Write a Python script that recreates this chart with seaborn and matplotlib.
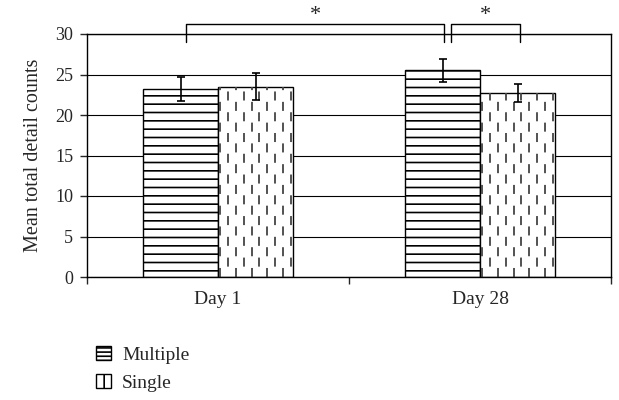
import matplotlib
matplotlib.use("Agg")
import matplotlib.pyplot as plt
from matplotlib.patches import Patch
import pandas as pd
import seaborn as sns

days = ["Day 1", "Day 28"]
groups = ["Multiple", "Single"]
multiple_mean = [23.2, 25.5]
single_mean = [23.5, 22.7]
multiple_err = [1.5, 1.4]
single_err = [1.65, 1.1]
yticks = [0, 5, 10, 15, 20, 25, 30]

df = pd.DataFrame({
    "day": days * 2,
    "group": [g for g in groups for _ in days],
    "count": multiple_mean + single_mean,
})

sns.set_style("white")
plt.rcParams["font.family"] = ["Liberation Serif", "DejaVu Serif"]
plt.rcParams["hatch.linewidth"] = 1.2

fig = plt.figure(figsize=(6.19, 4.0), dpi=100)
ax = fig.add_axes([0.1406, 0.3075, 0.8466, 0.6075])

sns.barplot(df, x="day", y="count", hue="group", order=days, hue_order=groups,
            palette=["white", "white"], saturation=1, width=0.573, gap=0,
            errorbar=None, edgecolor="black", linewidth=1.0, legend=False, ax=ax)
bars = list(ax.containers[:2])

# horizontal stripes for Multiple
for bar in bars[0]:
    bar.set_hatch("--")

# staggered vertical dashes for Single
for bar in bars[1]:
    x0, w, h = bar.get_x(), bar.get_width(), bar.get_height()
    for i in range(10):
        x = x0 + w * (0.03 + i * 0.104)
        off = 0 if i % 2 == 0 else 5.75
        lc = ax.vlines(x, 0, h, colors="#444444", linewidth=1.3,
                       linestyles=[(off, (5, 6.5))], zorder=bar.get_zorder() + 0.1)
        lc.set_clip_path(bar)

# error bars
for cont, errs in zip(bars, [multiple_err, single_err]):
    for bar, e in zip(cont, errs):
        cx = bar.get_x() + bar.get_width() / 2
        ax.errorbar(cx, bar.get_height(), yerr=e, fmt="none", ecolor="black",
                    elinewidth=1.2, capsize=3, capthick=1.2, zorder=5)

ax.set_ylim(0, 30)
ax.set_xlim(-0.5, 1.5)
ax.set_yticks(yticks)
ax.yaxis.grid(True, color="black", linewidth=0.8)
ax.set_axisbelow(True)
for s in ax.spines.values():
    s.set_visible(True)
    s.set_color("black")
    s.set_linewidth(1)

ax.tick_params(axis="y", left=True, direction="out", length=5, width=1,
               labelsize=13, pad=5)
ax.set_xticks([-0.5, 0.5, 1.5], minor=True)
ax.tick_params(axis="x", which="minor", bottom=True, direction="out", length=5, width=1)
ax.tick_params(axis="x", which="major", length=0, labelsize=14, pad=10)
ax.set_xlabel("")
ax.set_ylabel("Mean total detail counts", fontsize=14.5, labelpad=9)

# significance brackets
c = [[b.get_x() + b.get_width() / 2 for b in cont] for cont in bars]
brackets = [(c[0][0] + 0.022, c[0][1] + 0.005), (c[0][1] + 0.031, c[1][1] + 0.01)]
for x1, x2 in brackets:
    ax.plot([x1, x1, x2, x2], [29.0, 31.2, 31.2, 29.0], color="black", lw=1,
            clip_on=False, zorder=6)
    ax.text((x1 + x2) / 2, 32.3, "*", ha="center", va="center", fontsize=16,
            clip_on=False)

handles = [Patch(facecolor="white", edgecolor="black", hatch="----"),
           Patch(facecolor="white", edgecolor="black", hatch="||")]
fig.legend(handles, groups, loc="upper left", bbox_to_anchor=(0.155, 0.135),
           frameon=False, handlelength=0.75, handleheight=0.75, handletextpad=0.6,
           labelspacing=0.5, borderpad=0, borderaxespad=0, fontsize=14)

fig.savefig("out.png", dpi=100)
